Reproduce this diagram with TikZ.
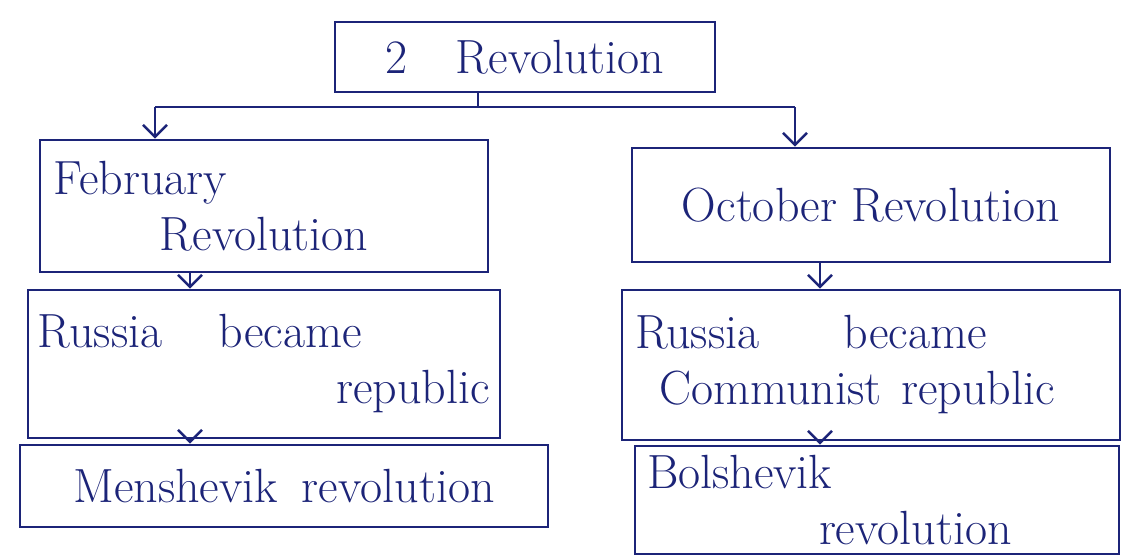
\documentclass[tikz,border=0pt]{standalone}
\usepackage{tikz}
\usetikzlibrary{arrows.meta}
\definecolor{ink}{RGB}{28,36,120}
\tikzset{revbox/.style={rectangle, draw=ink, line width=1.3pt, text=ink, inner sep=4pt},
         flow/.style={-{Straight Barb[length=6pt,width=12pt]}, draw=ink, line width=1.3pt}}

\begin{document}
\begin{tikzpicture}[x=0.5pt, y=-0.5pt, font=\fontsize{24}{28}\selectfont]

      \useasboundingbox[fill=white] (0,0) rectangle (1137,559);

      \node [revbox, minimum width=190pt, minimum height=35pt]  (rev)  at (525,57)  {2\quad Revolution};

      \node [revbox, minimum width=224pt, minimum height=66pt, text width=210pt, align=left]  (feb)  at (264,206)
            {February\\\hspace*{53pt}Revolution};
      \node [revbox, minimum width=239pt, minimum height=57pt]  (oct)  at (871,205)  {October Revolution};

      \node [revbox, minimum width=236pt, minimum height=74pt, text width=226pt, align=left]  (rep)  at (264,364)
            {Russia\hspace*{28pt}became\\\hspace*{\fill}republic};
      \node [revbox, minimum width=249pt, minimum height=75pt, text width=236pt, align=left]  (com)  at (871,365)
            {Russia\hspace*{42pt}became\\\hspace*{12pt}Communist\hspace*{10pt}republic};

      \node [revbox, minimum width=264pt, minimum height=41pt]  (men)  at (284,486)  {Menshevik\enspace revolution};
      \node [revbox, minimum width=242pt, minimum height=54pt, text width=230pt, align=left]  (bol)  at (877,500)
            {Bolshevik\\\hspace*{86pt}revolution};

      % branch below the top box
      \coordinate (split) at (478,107);
      \coordinate (lft)   at (155,107);
      \coordinate (rgt)   at (795,107);
      \draw [ink, line width=1.3pt] (rev.south -| split) to (split);
      \draw [ink, line width=1.3pt] (lft) to (rgt);
      \draw [flow] (lft) to (lft |- feb.north);
      \draw [flow] (rgt) to (rgt |- oct.north);

      \coordinate (a1) at (190,0);
      \coordinate (a2) at (820,0);
      \draw [flow] (feb.south -| a1) to (rep.north -| a1);
      \draw [flow] (oct.south -| a2) to (com.north -| a2);
      \draw [flow] (rep.south -| a1) to (men.north -| a1);
      \draw [flow] (com.south -| a2) to (bol.north -| a2);
    \end{tikzpicture}
\end{document}
